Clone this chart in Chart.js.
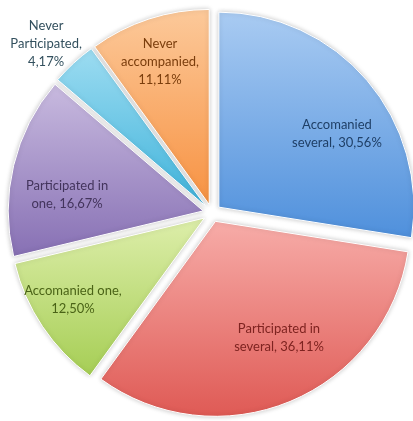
<!DOCTYPE html>
<html>
<head>
<meta charset="utf-8">
<script src="https://cdn.jsdelivr.net/npm/chart.js@4"></script>
<style>
  html, body { margin: 0; padding: 0; background: #fff; }
  #wrap { width: 413px; height: 421px; }
</style>
</head>
<body>
<div id="wrap"><canvas id="pie"></canvas></div>
<script>
const categories = ['Accomanied several', 'Participated in several', 'Accomanied one',
                    'Participated in one', 'Never Participated', 'Never accompanied'];
const shares = [30.56, 36.11, 12.50, 16.67, 4.17, 11.11];

// top / bottom stops of each slice gradient, and label ink
const lightColors = ['#a9cbf2', '#f7aca8', '#ddeeaa', '#c8badf', '#9ddcf1', '#fcc99a'];
const darkColors  = ['#4f90dc', '#df5a55', '#a6ce55', '#8770b4', '#3fb3db', '#f79242'];
const textColors  = ['#1f3f66', '#7e2320', '#4a6316', '#43345c', '#33505e', '#7a3d0c'];

// label placement: fraction of radius along the slice bisector, and a small turn (deg)
const labelRadius = [0.758, 0.727, 0.841, 0.749, 1.216, 0.819];
const labelTurn   = [8.2, -5.7, 1.75, -6.4, -1.65, -1];

const RADIUS = 195;
const EXPLODE = 9;    // how far each slice is pulled out from the centre
const FONT = '13px Lato';
const LINE = 18;

// pull every slice out along its bisector, keeping its radius unchanged
const arcDraw = Chart.ArcElement.prototype.draw;
Chart.ArcElement.prototype.draw = function (ctx) {
    const mid = (this.startAngle + this.endAngle) / 2;
    ctx.save();
    ctx.translate(Math.cos(mid) * EXPLODE, Math.sin(mid) * EXPLODE);
    arcDraw.call(this, ctx);
    ctx.restore();
};

function sliceFill(context) {
    const i = context.dataIndex;
    const area = context.chart.chartArea;
    if (!area) return darkColors[i];
    const total = shares.reduce((a, b) => a + b, 0);
    let before = 0;
    for (let k = 0; k < i; k++) before += shares[k];
    const a0 = -Math.PI / 2 + before / total * 2 * Math.PI;
    const a1 = a0 + shares[i] / total * 2 * Math.PI;
    const cy = (area.top + area.bottom) / 2;
    const ys = [cy, cy + RADIUS * Math.sin(a0), cy + RADIUS * Math.sin(a1)];
    if (a0 < Math.PI / 2 && a1 > Math.PI / 2) ys.push(cy + RADIUS);
    const g = context.chart.ctx.createLinearGradient(0, Math.min(...ys), 0, Math.max(...ys));
    g.addColorStop(0, lightColors[i]);
    g.addColorStop(1, darkColors[i]);
    return g;
}

function percent(v) {
    return v.toFixed(2).replace('.', ',') + '%';
}

function wrap(ctx, text, maxWidth) {
    const words = text.split(' ');
    const lines = [];
    let line = '';
    words.forEach(w => {
        const test = line ? line + ' ' + w : w;
        if (line && ctx.measureText(test).width > maxWidth) {
            lines.push(line);
            line = w;
        } else {
            line = test;
        }
    });
    lines.push(line);
    return lines;
}

const sliceShadow = {
    id: 'sliceShadow',
    beforeDatasetsDraw(chart) {
        const ctx = chart.ctx;
        ctx.save();
        ctx.shadowColor = 'rgba(0,0,0,0.22)';
        ctx.shadowBlur = 5;
    },
    afterDatasetsDraw(chart) {
        chart.ctx.restore();
    }
};

const sliceLabels = {
    id: 'sliceLabels',
    afterDraw(chart) {
        const ctx = chart.ctx;
        const arcs = chart.getDatasetMeta(0).data;
        ctx.save();
        ctx.font = FONT;
        ctx.textAlign = 'center';
        ctx.textBaseline = 'middle';
        arcs.forEach((arc, i) => {
            const mid = (arc.startAngle + arc.endAngle) / 2 + labelTurn[i] * Math.PI / 180;
            const r = arc.outerRadius * labelRadius[i];
            const x = arc.x + Math.cos(mid) * r;
            const y = arc.y + Math.sin(mid) * r;
            const lines = wrap(ctx, categories[i] + ', ' + percent(shares[i]), 108);
            ctx.fillStyle = textColors[i];
            lines.forEach((t, n) => {
                ctx.fillText(t, x, y + (n - (lines.length - 1) / 2) * LINE);
            });
        });
        ctx.restore();
    }
};

new Chart(document.getElementById('pie'), {
    type: 'pie',
    data: {
        labels: categories,
        datasets: [{
            data: shares,
            backgroundColor: sliceFill,
            borderColor: '#ffffff',
            borderWidth: 1,
            radius: RADIUS
        }]
    },
    options: {
        responsive: true,
        maintainAspectRatio: false,
        animation: false,
        layout: { padding: { left: 11, top: 5, right: 0, bottom: 0 } },
        plugins: {
            legend: { display: false },
            tooltip: { enabled: false }
        }
    },
    plugins: [sliceShadow, sliceLabels]
});
</script>
</body>
</html>
